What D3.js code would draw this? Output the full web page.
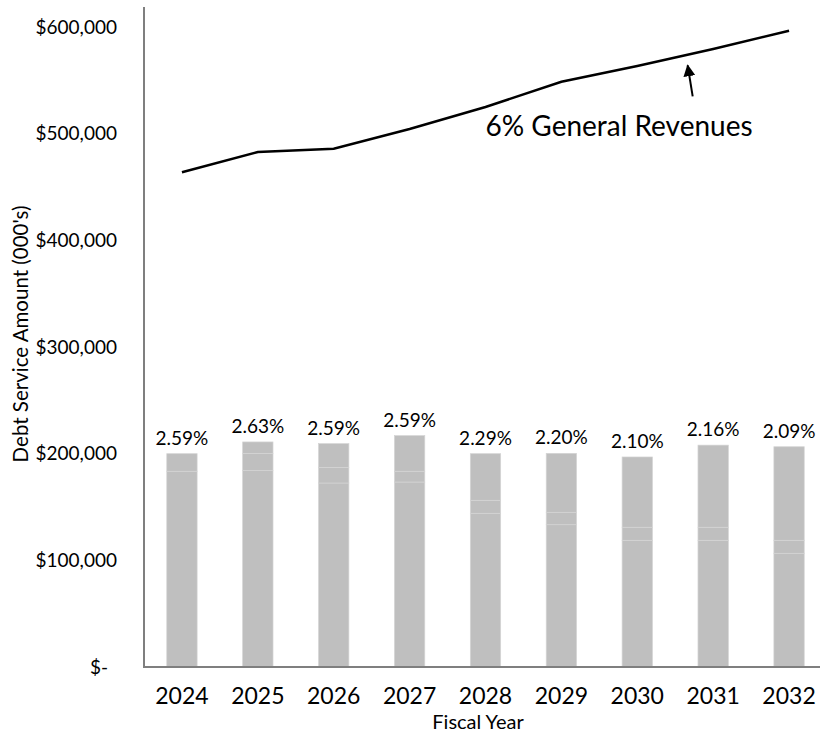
<!DOCTYPE html>
<html>
<head>
<meta charset="utf-8">
<script src="https://cdn.jsdelivr.net/npm/d3@7"></script>
<style>
  body { margin: 0; background: #fff; }
  text { font-family: Lato, "Open Sans", sans-serif; fill: #000; }
</style>
</head>
<body>
<svg></svg>
<script>
// fiscal years on the x axis
const years = ["2024", "2025", "2026", "2027", "2028", "2029", "2030", "2031", "2032"];
// debt service, stacked pieces (000's)
const existingDebt = [183500, 184400, 172500, 173400, 144100, 133400, 118800, 118800, 106600];
const midTranche = [0, 15900, 14700, 10100, 12200, 11600, 12200, 12200, 12200];
const newDebt = [16500, 10700, 22200, 33400, 43700, 55300, 65900, 77000, 87700];
// debt service as share of general revenues
const pctLabels = ["2.59%", "2.63%", "2.59%", "2.59%", "2.29%", "2.20%", "2.10%", "2.16%", "2.09%"];
// 6% of general revenues
const revenueLimit = [463800, 482800, 485900, 504400, 525000, 548700, 563400, 579400, 596500];
const yTicks = [0, 100000, 200000, 300000, 400000, 500000, 600000];

const width = 820;
const height = 738;

const svg = d3.select("svg").attr("width", width).attr("height", height);

const x = d3.scaleBand().domain(years).range([144, 827]).paddingInner(0.6).paddingOuter(0.3);
const y = d3.scaleLinear().domain([0, 600000]).range([667, 27]);
const cx = (yr) => x(yr) + x.bandwidth() / 2;

const rows = years.map((yr, i) => ({
  year: yr,
  a: existingDebt[i],
  b: midTranche[i],
  c: newDebt[i],
}));
const stacked = d3.stack().keys(["a", "b", "c"])(rows);

// bars
const g_bars = svg.append("g").attr("class", "bars");
stacked.forEach((layer) => {
  g_bars
    .append("g")
    .selectAll("rect")
    .data(layer)
    .enter()
    .append("rect")
    .attr("x", (d) => x(d.data.year))
    .attr("width", x.bandwidth())
    .attr("y", (d) => y(d[1]))
    .attr("height", (d) => y(d[0]) - y(d[1]))
    .attr("fill", "#bfbfbf")
    .attr("stroke", "#d4d4d4")
    .attr("stroke-width", 0.7);
});

// percentage labels
const totals = rows.map((r) => r.a + r.b + r.c);
svg
  .append("g")
  .selectAll("text")
  .data(years)
  .enter()
  .append("text")
  .attr("x", (yr) => cx(yr))
  .attr("y", (yr, i) => y(totals[i]) - 9)
  .attr("text-anchor", "middle")
  .attr("font-size", 19)
  .text((yr, i) => pctLabels[i]);

// revenue line
const line = d3
  .line()
  .x((d, i) => cx(years[i]))
  .y((d) => y(d));
svg
  .append("path")
  .datum(revenueLimit)
  .attr("d", line)
  .attr("fill", "none")
  .attr("stroke", "#000")
  .attr("stroke-width", 2.5);

// annotation
svg
  .append("defs")
  .append("marker")
  .attr("id", "head")
  .attr("viewBox", "0 0 10 10")
  .attr("refX", 9)
  .attr("refY", 5)
  .attr("markerWidth", 6)
  .attr("markerHeight", 6)
  .attr("orient", "auto")
  .append("path")
  .attr("d", "M0,0 L10,5 L0,10 Z")
  .attr("fill", "#000");

const arrowX = d3.interpolateNumber(cx("2030"), cx("2031"))(0.73);
svg
  .append("line")
  .attr("x1", arrowX)
  .attr("y1", y(535000))
  .attr("x2", arrowX - 5)
  .attr("y2", y(564000))
  .attr("stroke", "#000")
  .attr("stroke-width", 2)
  .attr("marker-end", "url(#head)");

svg
  .append("text")
  .attr("x", cx("2028"))
  .attr("y", y(500000) + 2)
  .attr("font-size", 28)
  .text("6% General Revenues");

// axes
const yAxis = d3
  .axisLeft(y)
  .tickValues(yTicks)
  .tickSize(0)
  .tickPadding(27)
  .tickFormat((d) => (d === 0 ? "$-" : "$" + d3.format(",")(d)));
const gy = svg.append("g").attr("transform", "translate(144,0)").call(yAxis);
gy.select(".domain").remove();
gy.selectAll("text").attr("font-size", 19).attr("font-family", null);
gy.selectAll(".tick")
  .filter((d) => d === 0)
  .select("text")
  .attr("dx", -9);

const xAxis = d3.axisBottom(x).tickSize(0).tickPadding(21);
const gx = svg.append("g").attr("transform", `translate(0,${y(0)})`).call(xAxis);
gx.select(".domain").remove();
gx.selectAll("text").attr("font-size", 23).attr("font-family", null);

svg
  .append("line")
  .attr("x1", 144)
  .attr("x2", 144)
  .attr("y1", y(600000) - 20)
  .attr("y2", y(0) + 1)
  .attr("stroke", "#7f7f7f")
  .attr("stroke-width", 2);
svg
  .append("line")
  .attr("x1", 143)
  .attr("x2", 820)
  .attr("y1", y(0))
  .attr("y2", y(0))
  .attr("stroke", "#7f7f7f")
  .attr("stroke-width", 2);

// axis titles
svg
  .append("text")
  .attr("x", 478)
  .attr("y", 729)
  .attr("text-anchor", "middle")
  .attr("font-size", 20)
  .text("Fiscal Year");
svg
  .append("text")
  .attr("transform", "translate(28,334) rotate(-90)")
  .attr("text-anchor", "middle")
  .attr("font-size", 20.5)
  .text("Debt Service Amount (000's)");
</script>
</body>
</html>
